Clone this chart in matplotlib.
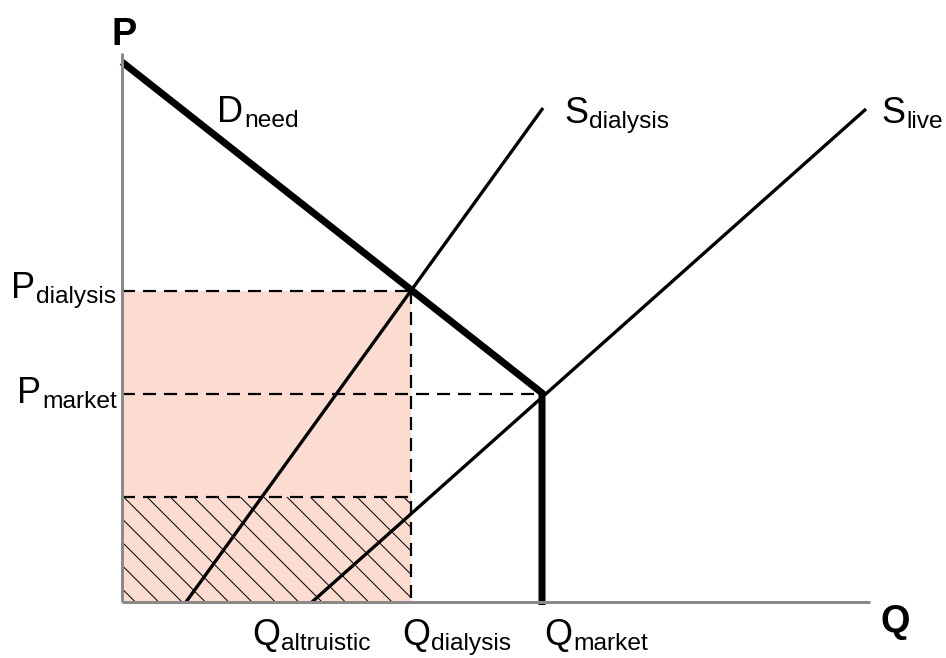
import matplotlib
matplotlib.use("Agg")
import matplotlib.pyplot as plt
from matplotlib.patches import Rectangle

# ---- data (chart units: origin at the axes corner) ----
demand_q = [0, 420, 420]
demand_p = [540, 209, -3]
s_dialysis_q = [64, 421]
s_dialysis_p = [0, 494]
s_live_q = [190, 744]
s_live_p = [0, 493]

Q_dialysis = 289
Q_market = 420
P_dialysis = 311
P_market = 208
P_low = 105
axis_q_max = 748
axis_p_max = 549

DPI = 140
PX = 72.0 / DPI  # points per pixel

plt.rcParams['font.family'] = ['Liberation Sans', 'DejaVu Sans']
fig = plt.figure(figsize=(946 / DPI, 658 / DPI), dpi=DPI)
ax = fig.add_axes([0, 0, 1, 1])
ax.set_xlim(-122, 824)
ax.set_ylim(-56, 602)
ax.axis('off')

fill_col = '#FCDCD0'
# shaded rectangle
ax.add_patch(Rectangle((0, 0), Q_dialysis, P_dialysis, facecolor=fill_col,
                       edgecolor='none', zorder=1))
# hatched lower part
plt.rcParams['hatch.linewidth'] = 1.0 * PX
ax.add_patch(Rectangle((0, 0), Q_dialysis, P_low, facecolor='none',
                       edgecolor='black', linewidth=0, hatch='\\\\', zorder=2))

# dashed guides
dash_lw = 2.2 * PX
dash = (13.0 / 2.2, 8.0 / 2.2)
for xs, ys in [([0, Q_dialysis], [P_dialysis, P_dialysis]),
               ([Q_dialysis, Q_dialysis], [P_dialysis, -3]),
               ([0, Q_market], [P_market, P_market]),
               ([0, Q_dialysis], [P_low, P_low])]:
    ax.plot(xs, ys, color='black', lw=dash_lw, dashes=dash,
            solid_capstyle='butt', dash_capstyle='butt', zorder=3)

# supply curves
ax.plot(s_dialysis_q, s_dialysis_p, color='black', lw=3.3 * PX,
        solid_capstyle='butt', zorder=4)
ax.plot(s_live_q, s_live_p, color='black', lw=3.3 * PX,
        solid_capstyle='butt', zorder=4)
# demand
ax.plot(demand_q, demand_p, color='black', lw=7 * PX,
        solid_capstyle='butt', solid_joinstyle='miter', zorder=5)

# axes
axis_col = '#8A8A8A'
ax.plot([0, 0], [0, axis_p_max], color=axis_col, lw=3 * PX,
        solid_capstyle='butt', zorder=6)
ax.plot([0, axis_q_max], [0, 0], color=axis_col, lw=3 * PX,
        solid_capstyle='butt', zorder=6)

BIG = 36 * PX
SUB = 24.5 * PX


def label(x, y, main, sub):
    t = ax.text(x, y, main, fontsize=BIG, ha='left', va='baseline', zorder=7)
    ax.annotate(sub, xy=(1, y), xycoords=(t, 'data'), xytext=(1 * PX, -5 * PX),
                textcoords='offset points', fontsize=SUB, ha='left',
                va='baseline', zorder=7)


def px(x, y):
    return x - 122, 602 - y


label(*px(217, 122), 'D', 'need')
label(*px(564, 123), 'S', 'dialysis')
label(*px(881, 123), 'S', 'live')
label(*px(11, 298), 'P', 'dialysis')
label(*px(17, 403), 'P', 'market')
label(*px(252, 645), 'Q', 'altruistic')
label(*px(402, 645), 'Q', 'dialysis')
label(*px(544, 645), 'Q', 'market')

ax.text(*px(111, 45), 'P', fontsize=38 * PX, fontweight='bold', ha='left',
        va='baseline')
ax.text(*px(881, 632), 'Q', fontsize=38 * PX, fontweight='bold', ha='left',
        va='baseline')

fig.savefig('out.png', dpi=DPI)
